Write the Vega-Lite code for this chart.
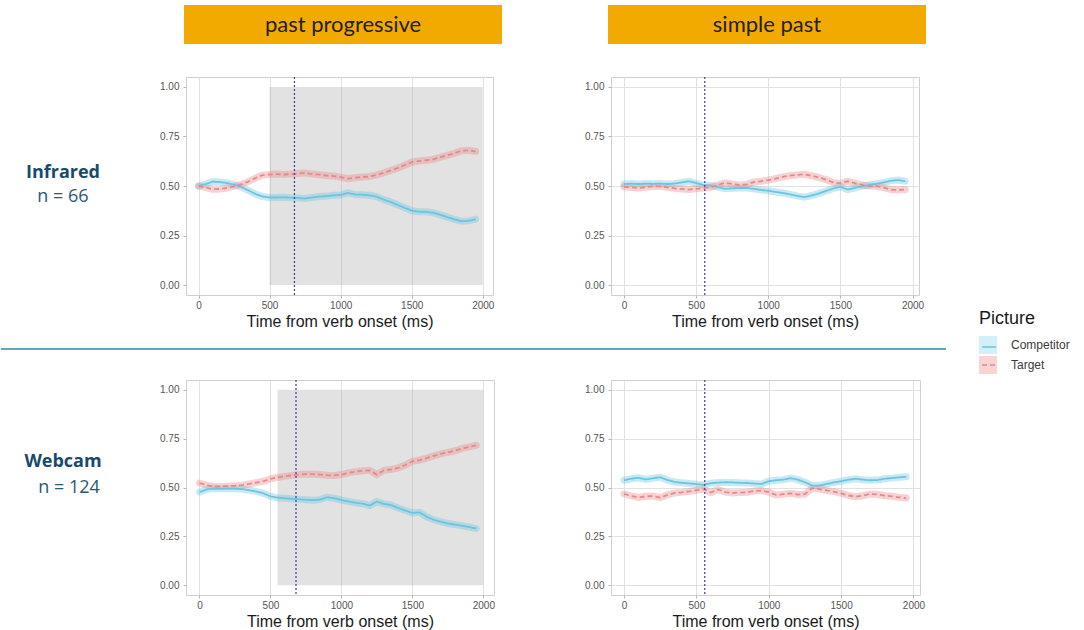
{
  "$schema": "https://vega.github.io/schema/vega-lite/v6.json",
  "padding": {"left": 0, "top": 5, "right": 0, "bottom": 0},
  "spacing": 0,
  "config": {"view": {"stroke": null}, "font": "Liberation Sans"},
  "datasets": {
    "headers": [{"h": "past progressive"}, {"h": "simple past"}],
    "labels": [{"r": "Infrared", "n": "n = 66"}, {"r": "Webcam", "n": "n = 124"}],
    "shade": [{"r": "Infrared", "start": 500, "end": 2000}, {"r": "Webcam", "start": 550, "end": 2000}],
    "onset": [{"r": "Infrared", "c": "pp", "t": 675}, {"r": "Infrared", "c": "sp", "t": 560}, {"r": "Webcam", "c": "pp", "t": 680}, {"r": "Webcam", "c": "sp", "t": 558}],
    "lines": [
      {"r":"Infrared","c":"pp","t":0,"Competitor":0.500,"Target":0.500},
      {"r":"Infrared","c":"pp","t":50,"Competitor":0.510,"Target":0.492},
      {"r":"Infrared","c":"pp","t":100,"Competitor":0.522,"Target":0.484},
      {"r":"Infrared","c":"pp","t":150,"Competitor":0.520,"Target":0.485},
      {"r":"Infrared","c":"pp","t":200,"Competitor":0.515,"Target":0.490},
      {"r":"Infrared","c":"pp","t":250,"Competitor":0.507,"Target":0.498},
      {"r":"Infrared","c":"pp","t":300,"Competitor":0.495,"Target":0.508},
      {"r":"Infrared","c":"pp","t":350,"Competitor":0.478,"Target":0.522},
      {"r":"Infrared","c":"pp","t":400,"Competitor":0.460,"Target":0.540},
      {"r":"Infrared","c":"pp","t":450,"Competitor":0.447,"Target":0.555},
      {"r":"Infrared","c":"pp","t":500,"Competitor":0.442,"Target":0.558},
      {"r":"Infrared","c":"pp","t":550,"Competitor":0.442,"Target":0.560},
      {"r":"Infrared","c":"pp","t":600,"Competitor":0.443,"Target":0.558},
      {"r":"Infrared","c":"pp","t":650,"Competitor":0.441,"Target":0.560},
      {"r":"Infrared","c":"pp","t":700,"Competitor":0.440,"Target":0.563},
      {"r":"Infrared","c":"pp","t":750,"Competitor":0.437,"Target":0.566},
      {"r":"Infrared","c":"pp","t":800,"Competitor":0.442,"Target":0.560},
      {"r":"Infrared","c":"pp","t":850,"Competitor":0.447,"Target":0.557},
      {"r":"Infrared","c":"pp","t":900,"Competitor":0.449,"Target":0.553},
      {"r":"Infrared","c":"pp","t":950,"Competitor":0.453,"Target":0.550},
      {"r":"Infrared","c":"pp","t":1000,"Competitor":0.455,"Target":0.545},
      {"r":"Infrared","c":"pp","t":1050,"Competitor":0.465,"Target":0.537},
      {"r":"Infrared","c":"pp","t":1100,"Competitor":0.457,"Target":0.542},
      {"r":"Infrared","c":"pp","t":1150,"Competitor":0.456,"Target":0.545},
      {"r":"Infrared","c":"pp","t":1200,"Competitor":0.453,"Target":0.548},
      {"r":"Infrared","c":"pp","t":1250,"Competitor":0.447,"Target":0.555},
      {"r":"Infrared","c":"pp","t":1300,"Competitor":0.432,"Target":0.566},
      {"r":"Infrared","c":"pp","t":1350,"Competitor":0.420,"Target":0.578},
      {"r":"Infrared","c":"pp","t":1400,"Competitor":0.405,"Target":0.590},
      {"r":"Infrared","c":"pp","t":1450,"Competitor":0.390,"Target":0.605},
      {"r":"Infrared","c":"pp","t":1500,"Competitor":0.376,"Target":0.620},
      {"r":"Infrared","c":"pp","t":1550,"Competitor":0.370,"Target":0.626},
      {"r":"Infrared","c":"pp","t":1600,"Competitor":0.370,"Target":0.630},
      {"r":"Infrared","c":"pp","t":1650,"Competitor":0.365,"Target":0.634},
      {"r":"Infrared","c":"pp","t":1700,"Competitor":0.355,"Target":0.645},
      {"r":"Infrared","c":"pp","t":1750,"Competitor":0.343,"Target":0.655},
      {"r":"Infrared","c":"pp","t":1800,"Competitor":0.332,"Target":0.665},
      {"r":"Infrared","c":"pp","t":1850,"Competitor":0.322,"Target":0.678},
      {"r":"Infrared","c":"pp","t":1900,"Competitor":0.324,"Target":0.680},
      {"r":"Infrared","c":"pp","t":1950,"Competitor":0.333,"Target":0.674},
      {"r":"Infrared","c":"sp","t":0,"Competitor":0.510,"Target":0.496},
      {"r":"Infrared","c":"sp","t":50,"Competitor":0.512,"Target":0.493},
      {"r":"Infrared","c":"sp","t":100,"Competitor":0.510,"Target":0.490},
      {"r":"Infrared","c":"sp","t":150,"Competitor":0.512,"Target":0.494},
      {"r":"Infrared","c":"sp","t":200,"Competitor":0.511,"Target":0.498},
      {"r":"Infrared","c":"sp","t":250,"Competitor":0.512,"Target":0.498},
      {"r":"Infrared","c":"sp","t":300,"Competitor":0.510,"Target":0.493},
      {"r":"Infrared","c":"sp","t":350,"Competitor":0.512,"Target":0.488},
      {"r":"Infrared","c":"sp","t":400,"Competitor":0.518,"Target":0.485},
      {"r":"Infrared","c":"sp","t":450,"Competitor":0.524,"Target":0.482},
      {"r":"Infrared","c":"sp","t":500,"Competitor":0.515,"Target":0.486},
      {"r":"Infrared","c":"sp","t":550,"Competitor":0.505,"Target":0.490},
      {"r":"Infrared","c":"sp","t":600,"Competitor":0.503,"Target":0.493},
      {"r":"Infrared","c":"sp","t":650,"Competitor":0.495,"Target":0.505},
      {"r":"Infrared","c":"sp","t":700,"Competitor":0.486,"Target":0.516},
      {"r":"Infrared","c":"sp","t":750,"Competitor":0.488,"Target":0.510},
      {"r":"Infrared","c":"sp","t":800,"Competitor":0.490,"Target":0.505},
      {"r":"Infrared","c":"sp","t":850,"Competitor":0.490,"Target":0.508},
      {"r":"Infrared","c":"sp","t":900,"Competitor":0.486,"Target":0.520},
      {"r":"Infrared","c":"sp","t":950,"Competitor":0.480,"Target":0.524},
      {"r":"Infrared","c":"sp","t":1000,"Competitor":0.476,"Target":0.530},
      {"r":"Infrared","c":"sp","t":1050,"Competitor":0.470,"Target":0.537},
      {"r":"Infrared","c":"sp","t":1100,"Competitor":0.465,"Target":0.546},
      {"r":"Infrared","c":"sp","t":1150,"Competitor":0.458,"Target":0.552},
      {"r":"Infrared","c":"sp","t":1200,"Competitor":0.450,"Target":0.556},
      {"r":"Infrared","c":"sp","t":1250,"Competitor":0.444,"Target":0.559},
      {"r":"Infrared","c":"sp","t":1300,"Competitor":0.452,"Target":0.552},
      {"r":"Infrared","c":"sp","t":1350,"Competitor":0.462,"Target":0.543},
      {"r":"Infrared","c":"sp","t":1400,"Competitor":0.475,"Target":0.532},
      {"r":"Infrared","c":"sp","t":1450,"Competitor":0.487,"Target":0.518},
      {"r":"Infrared","c":"sp","t":1500,"Competitor":0.496,"Target":0.513},
      {"r":"Infrared","c":"sp","t":1550,"Competitor":0.482,"Target":0.524},
      {"r":"Infrared","c":"sp","t":1600,"Competitor":0.490,"Target":0.515},
      {"r":"Infrared","c":"sp","t":1650,"Competitor":0.499,"Target":0.505},
      {"r":"Infrared","c":"sp","t":1700,"Competitor":0.505,"Target":0.500},
      {"r":"Infrared","c":"sp","t":1750,"Competitor":0.511,"Target":0.499},
      {"r":"Infrared","c":"sp","t":1800,"Competitor":0.518,"Target":0.492},
      {"r":"Infrared","c":"sp","t":1850,"Competitor":0.526,"Target":0.482},
      {"r":"Infrared","c":"sp","t":1900,"Competitor":0.530,"Target":0.480},
      {"r":"Infrared","c":"sp","t":1950,"Competitor":0.524,"Target":0.482},
      {"r":"Webcam","c":"pp","t":0,"Competitor":0.477,"Target":0.523},
      {"r":"Webcam","c":"pp","t":50,"Competitor":0.490,"Target":0.512},
      {"r":"Webcam","c":"pp","t":100,"Competitor":0.495,"Target":0.505},
      {"r":"Webcam","c":"pp","t":150,"Competitor":0.494,"Target":0.505},
      {"r":"Webcam","c":"pp","t":200,"Competitor":0.494,"Target":0.507},
      {"r":"Webcam","c":"pp","t":250,"Competitor":0.494,"Target":0.509},
      {"r":"Webcam","c":"pp","t":300,"Competitor":0.492,"Target":0.512},
      {"r":"Webcam","c":"pp","t":350,"Competitor":0.486,"Target":0.518},
      {"r":"Webcam","c":"pp","t":400,"Competitor":0.480,"Target":0.525},
      {"r":"Webcam","c":"pp","t":450,"Competitor":0.470,"Target":0.532},
      {"r":"Webcam","c":"pp","t":500,"Competitor":0.455,"Target":0.544},
      {"r":"Webcam","c":"pp","t":550,"Competitor":0.448,"Target":0.552},
      {"r":"Webcam","c":"pp","t":600,"Competitor":0.445,"Target":0.557},
      {"r":"Webcam","c":"pp","t":650,"Competitor":0.442,"Target":0.562},
      {"r":"Webcam","c":"pp","t":700,"Competitor":0.440,"Target":0.566},
      {"r":"Webcam","c":"pp","t":750,"Competitor":0.437,"Target":0.569},
      {"r":"Webcam","c":"pp","t":800,"Competitor":0.435,"Target":0.568},
      {"r":"Webcam","c":"pp","t":850,"Competitor":0.438,"Target":0.566},
      {"r":"Webcam","c":"pp","t":900,"Competitor":0.450,"Target":0.563},
      {"r":"Webcam","c":"pp","t":950,"Competitor":0.445,"Target":0.562},
      {"r":"Webcam","c":"pp","t":1000,"Competitor":0.436,"Target":0.566},
      {"r":"Webcam","c":"pp","t":1050,"Competitor":0.428,"Target":0.575},
      {"r":"Webcam","c":"pp","t":1100,"Competitor":0.422,"Target":0.581},
      {"r":"Webcam","c":"pp","t":1150,"Competitor":0.417,"Target":0.586},
      {"r":"Webcam","c":"pp","t":1200,"Competitor":0.408,"Target":0.588},
      {"r":"Webcam","c":"pp","t":1250,"Competitor":0.428,"Target":0.566},
      {"r":"Webcam","c":"pp","t":1300,"Competitor":0.416,"Target":0.588},
      {"r":"Webcam","c":"pp","t":1350,"Competitor":0.410,"Target":0.592},
      {"r":"Webcam","c":"pp","t":1400,"Competitor":0.395,"Target":0.600},
      {"r":"Webcam","c":"pp","t":1450,"Competitor":0.382,"Target":0.615},
      {"r":"Webcam","c":"pp","t":1500,"Competitor":0.370,"Target":0.634},
      {"r":"Webcam","c":"pp","t":1550,"Competitor":0.373,"Target":0.640},
      {"r":"Webcam","c":"pp","t":1600,"Competitor":0.350,"Target":0.650},
      {"r":"Webcam","c":"pp","t":1650,"Competitor":0.335,"Target":0.662},
      {"r":"Webcam","c":"pp","t":1700,"Competitor":0.325,"Target":0.672},
      {"r":"Webcam","c":"pp","t":1750,"Competitor":0.316,"Target":0.680},
      {"r":"Webcam","c":"pp","t":1800,"Competitor":0.310,"Target":0.688},
      {"r":"Webcam","c":"pp","t":1850,"Competitor":0.304,"Target":0.700},
      {"r":"Webcam","c":"pp","t":1900,"Competitor":0.298,"Target":0.708},
      {"r":"Webcam","c":"pp","t":1950,"Competitor":0.290,"Target":0.716},
      {"r":"Webcam","c":"sp","t":0,"Competitor":0.537,"Target":0.467},
      {"r":"Webcam","c":"sp","t":50,"Competitor":0.545,"Target":0.457},
      {"r":"Webcam","c":"sp","t":100,"Competitor":0.550,"Target":0.449},
      {"r":"Webcam","c":"sp","t":150,"Competitor":0.541,"Target":0.455},
      {"r":"Webcam","c":"sp","t":200,"Competitor":0.547,"Target":0.456},
      {"r":"Webcam","c":"sp","t":250,"Competitor":0.553,"Target":0.448},
      {"r":"Webcam","c":"sp","t":300,"Competitor":0.538,"Target":0.462},
      {"r":"Webcam","c":"sp","t":350,"Competitor":0.528,"Target":0.472},
      {"r":"Webcam","c":"sp","t":400,"Competitor":0.524,"Target":0.475},
      {"r":"Webcam","c":"sp","t":450,"Competitor":0.521,"Target":0.480},
      {"r":"Webcam","c":"sp","t":500,"Competitor":0.517,"Target":0.486},
      {"r":"Webcam","c":"sp","t":550,"Competitor":0.514,"Target":0.492},
      {"r":"Webcam","c":"sp","t":600,"Competitor":0.522,"Target":0.474},
      {"r":"Webcam","c":"sp","t":650,"Competitor":0.525,"Target":0.490},
      {"r":"Webcam","c":"sp","t":700,"Competitor":0.527,"Target":0.476},
      {"r":"Webcam","c":"sp","t":750,"Competitor":0.526,"Target":0.472},
      {"r":"Webcam","c":"sp","t":800,"Competitor":0.524,"Target":0.474},
      {"r":"Webcam","c":"sp","t":850,"Competitor":0.523,"Target":0.476},
      {"r":"Webcam","c":"sp","t":900,"Competitor":0.520,"Target":0.482},
      {"r":"Webcam","c":"sp","t":950,"Competitor":0.518,"Target":0.484},
      {"r":"Webcam","c":"sp","t":1000,"Competitor":0.532,"Target":0.476},
      {"r":"Webcam","c":"sp","t":1050,"Competitor":0.537,"Target":0.462},
      {"r":"Webcam","c":"sp","t":1100,"Competitor":0.540,"Target":0.466},
      {"r":"Webcam","c":"sp","t":1150,"Competitor":0.548,"Target":0.470},
      {"r":"Webcam","c":"sp","t":1200,"Competitor":0.540,"Target":0.464},
      {"r":"Webcam","c":"sp","t":1250,"Competitor":0.527,"Target":0.466},
      {"r":"Webcam","c":"sp","t":1300,"Competitor":0.510,"Target":0.497},
      {"r":"Webcam","c":"sp","t":1350,"Competitor":0.510,"Target":0.492},
      {"r":"Webcam","c":"sp","t":1400,"Competitor":0.518,"Target":0.485},
      {"r":"Webcam","c":"sp","t":1450,"Competitor":0.526,"Target":0.479},
      {"r":"Webcam","c":"sp","t":1500,"Competitor":0.532,"Target":0.470},
      {"r":"Webcam","c":"sp","t":1550,"Competitor":0.540,"Target":0.460},
      {"r":"Webcam","c":"sp","t":1600,"Competitor":0.545,"Target":0.453},
      {"r":"Webcam","c":"sp","t":1650,"Competitor":0.540,"Target":0.458},
      {"r":"Webcam","c":"sp","t":1700,"Competitor":0.537,"Target":0.467},
      {"r":"Webcam","c":"sp","t":1750,"Competitor":0.538,"Target":0.465},
      {"r":"Webcam","c":"sp","t":1800,"Competitor":0.545,"Target":0.458},
      {"r":"Webcam","c":"sp","t":1850,"Competitor":0.548,"Target":0.455},
      {"r":"Webcam","c":"sp","t":1900,"Competitor":0.552,"Target":0.450},
      {"r":"Webcam","c":"sp","t":1950,"Competitor":0.555,"Target":0.446}
    ]
  },
  "vconcat": [
    {
      "spacing": 106,
      "hconcat": [
        {"width": 77, "height": 70, "data": {"values": [{}]}, "mark": {"type": "text", "text": ""}},
        {"width": 318, "height": 39, "view": {"fill": "#F2A900", "stroke": null}, "data": {"name": "headers"}, "transform": [{"filter": "datum.h === 'past progressive'"}], "mark": {"type": "text", "font": "Lato", "fontSize": 22, "color": "#222222"}, "encoding": {"text": {"field": "h"}}},
        {"width": 318, "height": 39, "view": {"fill": "#F2A900", "stroke": null}, "data": {"name": "headers"}, "transform": [{"filter": "datum.h === 'simple past'"}], "mark": {"type": "text", "font": "Lato", "fontSize": 22, "color": "#222222"}, "encoding": {"text": {"field": "h"}}}
      ]
    },
    {
      "spacing": 34,
      "hconcat": [
        {"width": 124, "height": 218, "data": {"name": "labels"}, "transform": [{"filter": "datum.r === 'Infrared'"}],
         "layer": [
           {"mark": {"type": "text", "font": "Open Sans", "fontSize": 18, "fontWeight": "bold", "color": "#1A4A6B", "baseline": "alphabetic", "dy": -8}, "encoding": {"text": {"field": "r"}}},
           {"mark": {"type": "text", "font": "Open Sans", "fontSize": 18, "color": "#2B5876", "baseline": "alphabetic", "dy": 16}, "encoding": {"text": {"field": "n"}}}
         ]},
        {"hconcat": [
          {"width": 307, "height": 218, "view": {"stroke": "#CFCFCF"},
           "layer": [
             {"data": {"name": "shade"}, "transform": [{"filter": "datum.r === 'Infrared'"}],
              "mark": {"type": "rect", "fill": "#9E9E9E", "opacity": 0.3},
              "encoding": {
                "x": {"field": "start", "type": "quantitative", "scale": {"domain": [-88, 2072], "nice": false, "zero": false},
                      "axis": {"values": [0,250,500,750,1000,1250,1500,1750,2000], "format": "d", "labelExpr": "datum.value % 500 === 0 ? datum.label : ''", "title": "Time from verb onset (ms)", "gridColor": {"condition": {"test": "datum.value % 500 === 0", "value": "#E2E2E2"}, "value": "#EFEFEF"}, "tickOpacity": {"condition": {"test": "datum.value % 500 === 0", "value": 1}, "value": 0}, "tickColor": "#B5B5B5", "tickSize": 3, "domain": false, "labelFlush": false, "labelOverlap": false, "labelPadding": 2, "labelFontSize": 10, "labelColor": "#555555", "titleFontSize": 16, "titleFontWeight": "normal", "titleColor": "#1a1a1a", "titlePadding": 3}},
                "x2": {"field": "end"},
                "y": {"datum": 0, "type": "quantitative", "scale": {"domain": [-0.05, 1.05], "nice": false, "zero": false},
                      "axis": {"values": [0,0.125,0.25,0.375,0.5,0.625,0.75,0.875,1], "format": ".2f", "labelExpr": "(datum.value * 4) % 1 === 0 ? datum.label : ''", "title": null, "gridColor": {"condition": {"test": "(datum.value * 4) % 1 === 0", "value": "#E2E2E2"}, "value": "#EFEFEF"}, "tickOpacity": {"condition": {"test": "(datum.value * 4) % 1 === 0", "value": 1}, "value": 0}, "tickColor": "#B5B5B5", "tickSize": 3, "domain": false, "labelFlush": false, "labelOverlap": false, "labelPadding": 4, "labelFontSize": 10, "labelColor": "#555555"}},
                "y2": {"datum": 1}
              }},
             {"data": {"name": "lines"}, "transform": [{"filter": "datum.r === 'Infrared' && datum.c === 'pp'"}, {"fold": ["Competitor", "Target"], "as": ["Picture", "prop"]}],
              "layer": [
                {"mark": {"type": "line", "strokeWidth": 7, "opacity": 0.38, "strokeCap": "round"},
                 "encoding": {"x": {"field": "t", "type": "quantitative"}, "y": {"field": "prop", "type": "quantitative"},
                   "color": {"field": "Picture", "type": "nominal", "scale": {"domain": ["Competitor", "Target"], "range": ["#6CC5DF", "#E7898B"]}, "legend": {"orient": "none", "legendX": 980, "legendY": 334, "title": null, "symbolType": "stroke", "symbolSize": 196, "symbolStrokeWidth": 1.6, "symbolOpacity": 1, "labelExpr": "''", "labelOffset": 0, "labelFontSize": 1, "rowPadding": 6, "zindex": 2}}}},
                {"mark": {"type": "line", "strokeWidth": 1.8},
                 "encoding": {"x": {"field": "t", "type": "quantitative"}, "y": {"field": "prop", "type": "quantitative"},
                   "color": {"field": "Picture", "type": "nominal", "scale": {"domain": ["Competitor", "Target"], "range": ["#6CC5DF", "#E7898B"]}, "legend": {"orient": "none", "legendX": 980, "legendY": 334, "title": null, "symbolType": "stroke", "symbolSize": 196, "symbolStrokeWidth": 1.6, "symbolOpacity": 1, "labelExpr": "''", "labelOffset": 0, "labelFontSize": 1, "rowPadding": 6, "zindex": 2}},
                   "strokeDash": {"field": "Picture", "type": "nominal", "scale": {"domain": ["Competitor", "Target"], "range": [[1, 0], [5, 3]]}, "legend": {"orient": "none", "legendX": 980, "legendY": 334, "title": null, "symbolType": "stroke", "symbolSize": 196, "symbolStrokeWidth": 1.6, "symbolOpacity": 1, "labelExpr": "''", "labelOffset": 0, "labelFontSize": 1, "rowPadding": 6, "zindex": 2}}}}
              ]},
             {"data": {"name": "onset"}, "transform": [{"filter": "datum.r === 'Infrared' && datum.c === 'pp'"}],
              "mark": {"type": "rule", "color": "#3C3C96", "strokeDash": [2, 2], "strokeWidth": 1.2},
              "encoding": {"x": {"field": "t", "type": "quantitative"}}},
             {"data": {"name": "lines"}, "transform": [{"filter": "datum.r === 'Infrared' && datum.c === 'pp' && datum.t === 0"}, {"fold": ["Competitor", "Target"], "as": ["Picture", "prop"]}],
              "mark": {"type": "square", "filled": true, "opacity": 0},
              "encoding": {"x": {"field": "t", "type": "quantitative"}, "y": {"field": "prop", "type": "quantitative"},
                "fill": {"field": "Picture", "type": "nominal", "scale": {"range": ["#D3EFF8", "#FAD3D4"]}, "legend": {"orient": "none", "legendX": 978, "legendY": 305, "title": "Picture", "symbolType": "square", "symbolSize": 324, "symbolStrokeWidth": 0, "symbolOpacity": 1, "labelOffset": 14, "titleFontSize": 18, "titleFontWeight": "normal", "titleColor": "#1a1a1a", "labelFontSize": 12, "labelColor": "#3a3a3a", "rowPadding": 2, "titlePadding": 8, "zindex": 1}}}}
           ]},
          {"width": 308, "height": 218, "view": {"stroke": "#CFCFCF"},
           "layer": [
             {"data": {"name": "lines"}, "transform": [{"filter": "datum.r === 'Infrared' && datum.c === 'sp'"}, {"fold": ["Competitor", "Target"], "as": ["Picture", "prop"]}],
              "layer": [
                {"mark": {"type": "line", "strokeWidth": 7, "opacity": 0.38, "strokeCap": "round"},
                 "encoding": {
                   "x": {"field": "t", "type": "quantitative", "scale": {"domain": [-90, 2045], "nice": false, "zero": false},
                      "axis": {"values": [0,250,500,750,1000,1250,1500,1750,2000], "format": "d", "labelExpr": "datum.value % 500 === 0 ? datum.label : ''", "title": "Time from verb onset (ms)", "gridColor": {"condition": {"test": "datum.value % 500 === 0", "value": "#E2E2E2"}, "value": "#EFEFEF"}, "tickOpacity": {"condition": {"test": "datum.value % 500 === 0", "value": 1}, "value": 0}, "tickColor": "#B5B5B5", "tickSize": 3, "domain": false, "labelFlush": false, "labelOverlap": false, "labelPadding": 2, "labelFontSize": 10, "labelColor": "#555555", "titleFontSize": 16, "titleFontWeight": "normal", "titleColor": "#1a1a1a", "titlePadding": 3}},
                   "y": {"field": "prop", "type": "quantitative", "scale": {"domain": [-0.05, 1.05], "nice": false, "zero": false},
                      "axis": {"values": [0,0.125,0.25,0.375,0.5,0.625,0.75,0.875,1], "format": ".2f", "labelExpr": "(datum.value * 4) % 1 === 0 ? datum.label : ''", "title": null, "gridColor": {"condition": {"test": "(datum.value * 4) % 1 === 0", "value": "#E2E2E2"}, "value": "#EFEFEF"}, "tickOpacity": {"condition": {"test": "(datum.value * 4) % 1 === 0", "value": 1}, "value": 0}, "tickColor": "#B5B5B5", "tickSize": 3, "domain": false, "labelFlush": false, "labelOverlap": false, "labelPadding": 4, "labelFontSize": 10, "labelColor": "#555555"}},
                   "color": {"field": "Picture", "type": "nominal", "scale": {"domain": ["Competitor", "Target"], "range": ["#6CC5DF", "#E7898B"]}, "legend": {"orient": "none", "legendX": 980, "legendY": 334, "title": null, "symbolType": "stroke", "symbolSize": 196, "symbolStrokeWidth": 1.6, "symbolOpacity": 1, "labelExpr": "''", "labelOffset": 0, "labelFontSize": 1, "rowPadding": 6, "zindex": 2}}}},
                {"mark": {"type": "line", "strokeWidth": 1.8},
                 "encoding": {"x": {"field": "t", "type": "quantitative"}, "y": {"field": "prop", "type": "quantitative"},
                   "color": {"field": "Picture", "type": "nominal", "scale": {"domain": ["Competitor", "Target"], "range": ["#6CC5DF", "#E7898B"]}, "legend": {"orient": "none", "legendX": 980, "legendY": 334, "title": null, "symbolType": "stroke", "symbolSize": 196, "symbolStrokeWidth": 1.6, "symbolOpacity": 1, "labelExpr": "''", "labelOffset": 0, "labelFontSize": 1, "rowPadding": 6, "zindex": 2}},
                   "strokeDash": {"field": "Picture", "type": "nominal", "scale": {"domain": ["Competitor", "Target"], "range": [[1, 0], [5, 3]]}, "legend": {"orient": "none", "legendX": 980, "legendY": 334, "title": null, "symbolType": "stroke", "symbolSize": 196, "symbolStrokeWidth": 1.6, "symbolOpacity": 1, "labelExpr": "''", "labelOffset": 0, "labelFontSize": 1, "rowPadding": 6, "zindex": 2}}}}
              ]},
             {"data": {"name": "onset"}, "transform": [{"filter": "datum.r === 'Infrared' && datum.c === 'sp'"}],
              "mark": {"type": "rule", "color": "#3C3C96", "strokeDash": [2, 2], "strokeWidth": 1.2},
              "encoding": {"x": {"field": "t", "type": "quantitative"}}}
           ]}
        ], "spacing": 89}
      ]
    },
    {"width": 945, "height": 48, "data": {"values": [{}]}, "mark": {"type": "rule", "color": "#2E8A9C", "strokeWidth": 1.5},
     "encoding": {"y": {"datum": 0.604, "type": "quantitative", "scale": {"domain": [0, 1]}, "axis": null}}},
    {
      "spacing": 34,
      "hconcat": [
        {"width": 124, "height": 215, "data": {"name": "labels"}, "transform": [{"filter": "datum.r === 'Webcam'"}],
         "layer": [
           {"mark": {"type": "text", "font": "Open Sans", "fontSize": 18, "fontWeight": "bold", "color": "#1A4A6B", "baseline": "alphabetic", "dy": -21}, "encoding": {"text": {"field": "r"}}},
           {"mark": {"type": "text", "font": "Open Sans", "fontSize": 18, "color": "#2B5876", "baseline": "alphabetic", "dy": 5, "dx": 6}, "encoding": {"text": {"field": "n"}}}
         ]},
        {"hconcat": [
          {"width": 308, "height": 215, "view": {"stroke": "#CFCFCF"},
           "layer": [
             {"data": {"name": "shade"}, "transform": [{"filter": "datum.r === 'Webcam'"}],
              "mark": {"type": "rect", "fill": "#9E9E9E", "opacity": 0.3},
              "encoding": {
                "x": {"field": "start", "type": "quantitative", "scale": {"domain": [-95, 2075], "nice": false, "zero": false},
                      "axis": {"values": [0,250,500,750,1000,1250,1500,1750,2000], "format": "d", "labelExpr": "datum.value % 500 === 0 ? datum.label : ''", "title": "Time from verb onset (ms)", "gridColor": {"condition": {"test": "datum.value % 500 === 0", "value": "#E2E2E2"}, "value": "#EFEFEF"}, "tickOpacity": {"condition": {"test": "datum.value % 500 === 0", "value": 1}, "value": 0}, "tickColor": "#B5B5B5", "tickSize": 3, "domain": false, "labelFlush": false, "labelOverlap": false, "labelPadding": 2, "labelFontSize": 10, "labelColor": "#555555", "titleFontSize": 16, "titleFontWeight": "normal", "titleColor": "#1a1a1a", "titlePadding": 3}},
                "x2": {"field": "end"},
                "y": {"datum": 0, "type": "quantitative", "scale": {"domain": [-0.05, 1.05], "nice": false, "zero": false},
                      "axis": {"values": [0,0.125,0.25,0.375,0.5,0.625,0.75,0.875,1], "format": ".2f", "labelExpr": "(datum.value * 4) % 1 === 0 ? datum.label : ''", "title": null, "gridColor": {"condition": {"test": "(datum.value * 4) % 1 === 0", "value": "#E2E2E2"}, "value": "#EFEFEF"}, "tickOpacity": {"condition": {"test": "(datum.value * 4) % 1 === 0", "value": 1}, "value": 0}, "tickColor": "#B5B5B5", "tickSize": 3, "domain": false, "labelFlush": false, "labelOverlap": false, "labelPadding": 4, "labelFontSize": 10, "labelColor": "#555555"}},
                "y2": {"datum": 1}
              }},
             {"data": {"name": "lines"}, "transform": [{"filter": "datum.r === 'Webcam' && datum.c === 'pp'"}, {"fold": ["Competitor", "Target"], "as": ["Picture", "prop"]}],
              "layer": [
                {"mark": {"type": "line", "strokeWidth": 7, "opacity": 0.38, "strokeCap": "round"},
                 "encoding": {"x": {"field": "t", "type": "quantitative"}, "y": {"field": "prop", "type": "quantitative"},
                   "color": {"field": "Picture", "type": "nominal", "scale": {"domain": ["Competitor", "Target"], "range": ["#6CC5DF", "#E7898B"]}, "legend": {"orient": "none", "legendX": 980, "legendY": 334, "title": null, "symbolType": "stroke", "symbolSize": 196, "symbolStrokeWidth": 1.6, "symbolOpacity": 1, "labelExpr": "''", "labelOffset": 0, "labelFontSize": 1, "rowPadding": 6, "zindex": 2}}}},
                {"mark": {"type": "line", "strokeWidth": 1.8},
                 "encoding": {"x": {"field": "t", "type": "quantitative"}, "y": {"field": "prop", "type": "quantitative"},
                   "color": {"field": "Picture", "type": "nominal", "scale": {"domain": ["Competitor", "Target"], "range": ["#6CC5DF", "#E7898B"]}, "legend": {"orient": "none", "legendX": 980, "legendY": 334, "title": null, "symbolType": "stroke", "symbolSize": 196, "symbolStrokeWidth": 1.6, "symbolOpacity": 1, "labelExpr": "''", "labelOffset": 0, "labelFontSize": 1, "rowPadding": 6, "zindex": 2}},
                   "strokeDash": {"field": "Picture", "type": "nominal", "scale": {"domain": ["Competitor", "Target"], "range": [[1, 0], [5, 3]]}, "legend": {"orient": "none", "legendX": 980, "legendY": 334, "title": null, "symbolType": "stroke", "symbolSize": 196, "symbolStrokeWidth": 1.6, "symbolOpacity": 1, "labelExpr": "''", "labelOffset": 0, "labelFontSize": 1, "rowPadding": 6, "zindex": 2}}}}
              ]},
             {"data": {"name": "onset"}, "transform": [{"filter": "datum.r === 'Webcam' && datum.c === 'pp'"}],
              "mark": {"type": "rule", "color": "#3C3C96", "strokeDash": [2, 2], "strokeWidth": 1.2},
              "encoding": {"x": {"field": "t", "type": "quantitative"}}}
           ]},
          {"width": 309, "height": 215, "view": {"stroke": "#CFCFCF"},
           "layer": [
             {"data": {"name": "lines"}, "transform": [{"filter": "datum.r === 'Webcam' && datum.c === 'sp'"}, {"fold": ["Competitor", "Target"], "as": ["Picture", "prop"]}],
              "layer": [
                {"mark": {"type": "line", "strokeWidth": 7, "opacity": 0.38, "strokeCap": "round"},
                 "encoding": {
                   "x": {"field": "t", "type": "quantitative", "scale": {"domain": [-90, 2045], "nice": false, "zero": false},
                      "axis": {"values": [0,250,500,750,1000,1250,1500,1750,2000], "format": "d", "labelExpr": "datum.value % 500 === 0 ? datum.label : ''", "title": "Time from verb onset (ms)", "gridColor": {"condition": {"test": "datum.value % 500 === 0", "value": "#E2E2E2"}, "value": "#EFEFEF"}, "tickOpacity": {"condition": {"test": "datum.value % 500 === 0", "value": 1}, "value": 0}, "tickColor": "#B5B5B5", "tickSize": 3, "domain": false, "labelFlush": false, "labelOverlap": false, "labelPadding": 2, "labelFontSize": 10, "labelColor": "#555555", "titleFontSize": 16, "titleFontWeight": "normal", "titleColor": "#1a1a1a", "titlePadding": 3}},
                   "y": {"field": "prop", "type": "quantitative", "scale": {"domain": [-0.05, 1.05], "nice": false, "zero": false},
                      "axis": {"values": [0,0.125,0.25,0.375,0.5,0.625,0.75,0.875,1], "format": ".2f", "labelExpr": "(datum.value * 4) % 1 === 0 ? datum.label : ''", "title": null, "gridColor": {"condition": {"test": "(datum.value * 4) % 1 === 0", "value": "#E2E2E2"}, "value": "#EFEFEF"}, "tickOpacity": {"condition": {"test": "(datum.value * 4) % 1 === 0", "value": 1}, "value": 0}, "tickColor": "#B5B5B5", "tickSize": 3, "domain": false, "labelFlush": false, "labelOverlap": false, "labelPadding": 4, "labelFontSize": 10, "labelColor": "#555555"}},
                   "color": {"field": "Picture", "type": "nominal", "scale": {"domain": ["Competitor", "Target"], "range": ["#6CC5DF", "#E7898B"]}, "legend": {"orient": "none", "legendX": 980, "legendY": 334, "title": null, "symbolType": "stroke", "symbolSize": 196, "symbolStrokeWidth": 1.6, "symbolOpacity": 1, "labelExpr": "''", "labelOffset": 0, "labelFontSize": 1, "rowPadding": 6, "zindex": 2}}}},
                {"mark": {"type": "line", "strokeWidth": 1.8},
                 "encoding": {"x": {"field": "t", "type": "quantitative"}, "y": {"field": "prop", "type": "quantitative"},
                   "color": {"field": "Picture", "type": "nominal", "scale": {"domain": ["Competitor", "Target"], "range": ["#6CC5DF", "#E7898B"]}, "legend": {"orient": "none", "legendX": 980, "legendY": 334, "title": null, "symbolType": "stroke", "symbolSize": 196, "symbolStrokeWidth": 1.6, "symbolOpacity": 1, "labelExpr": "''", "labelOffset": 0, "labelFontSize": 1, "rowPadding": 6, "zindex": 2}},
                   "strokeDash": {"field": "Picture", "type": "nominal", "scale": {"domain": ["Competitor", "Target"], "range": [[1, 0], [5, 3]]}, "legend": {"orient": "none", "legendX": 980, "legendY": 334, "title": null, "symbolType": "stroke", "symbolSize": 196, "symbolStrokeWidth": 1.6, "symbolOpacity": 1, "labelExpr": "''", "labelOffset": 0, "labelFontSize": 1, "rowPadding": 6, "zindex": 2}}}}
              ]},
             {"data": {"name": "onset"}, "transform": [{"filter": "datum.r === 'Webcam' && datum.c === 'sp'"}],
              "mark": {"type": "rule", "color": "#3C3C96", "strokeDash": [2, 2], "strokeWidth": 1.2},
              "encoding": {"x": {"field": "t", "type": "quantitative"}}}
           ]}
        ], "spacing": 89}
      ]
    }
  ]
}
